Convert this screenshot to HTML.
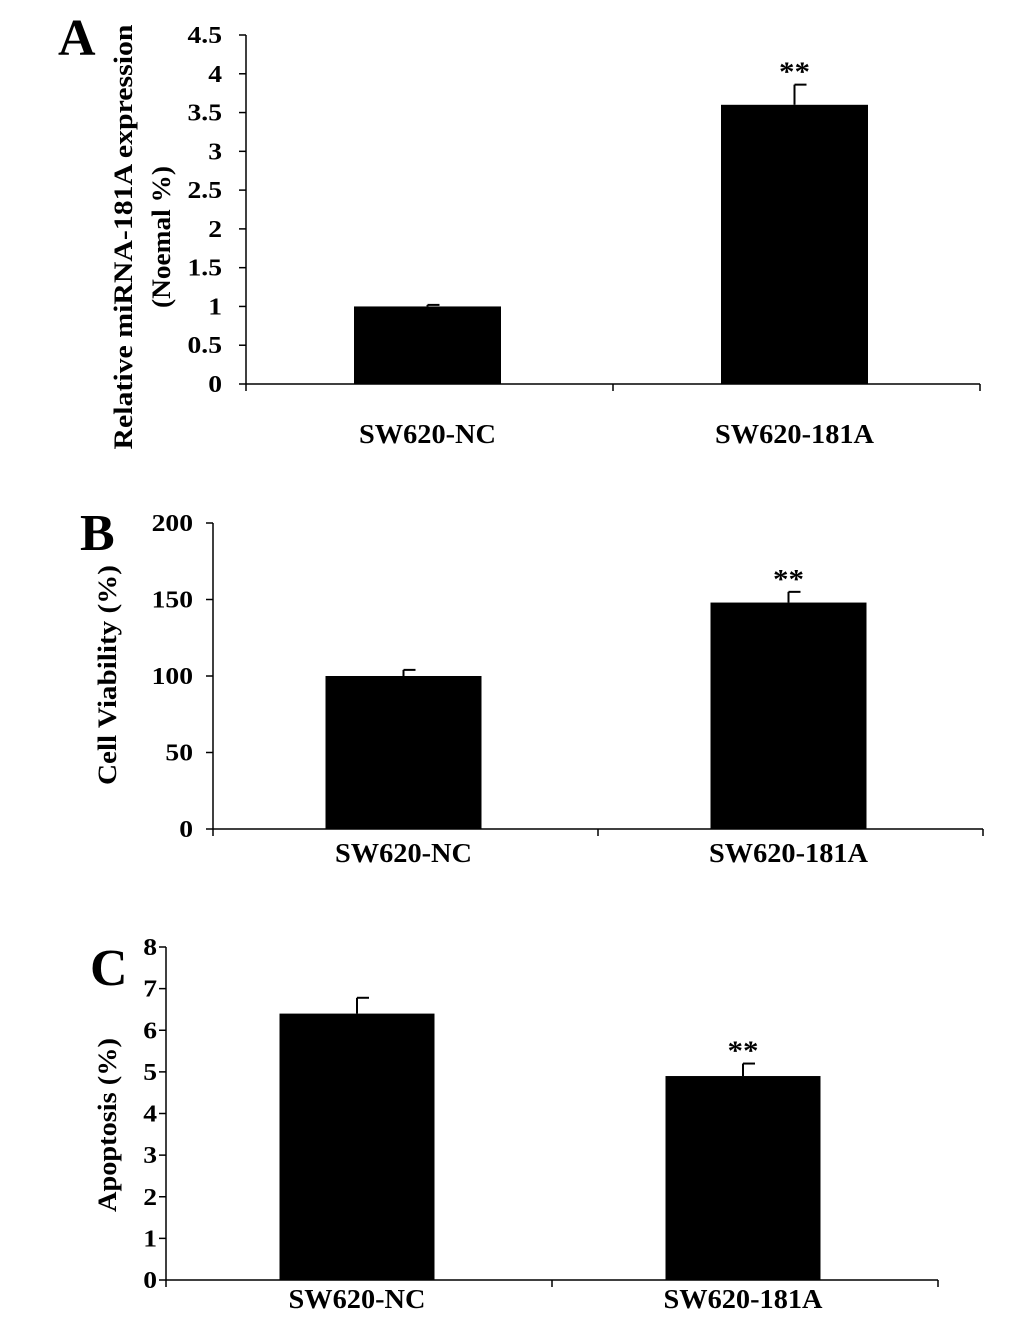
<!DOCTYPE html>
<html><head><meta charset="utf-8"><style>
body{margin:0;background:#fff}
svg{display:block;font-family:"Liberation Serif",serif;font-weight:bold}
</style></head><body>
<svg id="c" width="1033" height="1317" viewBox="0 0 1033 1317"></svg>
<script>
const categories=["SW620-NC","SW620-181A"];
const valuesA=[1.0,3.6], errA=[0.02,0.26], ticksA=["0","0.5","1","1.5","2","2.5","3","3.5","4","4.5"];
const valuesB=[100,148], errB=[4,7], ticksB=["0","50","100","150","200"];
const valuesC=[6.4,4.9], errC=[0.38,0.3], ticksC=["0","1","2","3","4","5","6","7","8"];
const sigA=[false,true], sigB=[false,true], sigC=[false,true];
const NS="http://www.w3.org/2000/svg", svg=document.getElementById('c');
function mk(t,a,p,txt){const e=document.createElementNS(NS,t);for(const k in a)e.setAttribute(k,a[k]);if(txt!==undefined)e.textContent=txt;(p||svg).appendChild(e);return e;}
const panels=[
 {id:"a",letter:"A",lx:58,ly:55,x0:246,x1:980,y0:384,y1:35,max:4.5,ticks:ticksA,vals:valuesA,err:errA,sig:sigA,bw:147,catY:443,gap:24,title:["Relative miRNA-181A expression","(Noemal %)"],titleX:[123,161],titleY:237,titleLen:[425,142]},
 {id:"b",letter:"B",lx:80,ly:550,x0:213,x1:983,y0:829,y1:523,max:200,ticks:ticksB,vals:valuesB,err:errB,sig:sigB,bw:156,catY:862,gap:20,title:["Cell Viability (%)"],titleX:[107],titleY:675,titleLen:[220]},
 {id:"c",letter:"C",lx:90,ly:985,x0:166,x1:938,y0:1280,y1:947,max:8,ticks:ticksC,vals:valuesC,err:errC,sig:sigC,bw:155,catY:1308,gap:9,title:["Apoptosis (%)"],titleX:[107],titleY:1125,titleLen:[174]}
];
panels.forEach(p=>{
 const g=mk('g',{});
 
 
 const y=v=>p.y0-(v/p.max)*(p.y0-p.y1);
 const band=(p.x1-p.x0)/categories.length;
 const cx=i=>p.x0+band*(i+0.5)-2;
 const L=mk('text',{x:p.lx,y:p.ly,'font-size':52},g,p.letter);
 
 const ya=mk('line',{x1:p.x0,x2:p.x0,y1:p.y1,y2:p.y0,stroke:'#000','stroke-width':1.5},g);
 
 const xa=mk('line',{x1:p.x0,x2:p.x1,y1:p.y0,y2:p.y0,stroke:'#000','stroke-width':1.5},g);
 
 p.ticks.forEach(t=>{const v=parseFloat(t),yy=y(v);
  mk('line',{x1:p.x0-7,x2:p.x0,y1:yy,y2:yy,stroke:'#000','stroke-width':1.5},g);
  const tl=mk('text',{x:0,y:0,'text-anchor':'end','font-size':24,transform:`translate(${p.x0-p.gap},${yy+8}) scale(1.15,1)`},g,t);
  });
 for(let i=0;i<=categories.length;i++){const xx=p.x0+band*i;mk('line',{x1:xx,x2:xx,y1:p.y0,y2:p.y0+7,stroke:'#000','stroke-width':1.5},g);}
 categories.forEach((c,i)=>{
  const top=y(p.vals[i]),et=y(p.vals[i]+p.err[i]);
  mk('line',{x1:cx(i),x2:cx(i),y1:et,y2:top,stroke:'#000','stroke-width':2},g);
  mk('line',{x1:cx(i),x2:cx(i)+12,y1:et,y2:et,stroke:'#000','stroke-width':2},g);
  const b=mk('rect',{x:cx(i)-p.bw/2,y:top,width:p.bw,height:p.y0-top,fill:'#000'},g);
  
  if(p.sig[i]){const s=mk('text',{x:0,y:0,'text-anchor':'middle','font-size':27,transform:`translate(${cx(i)},${et-4}) scale(1.15,1)`},g,'**');
   }
  const cl=mk('text',{x:0,y:0,'text-anchor':'middle','font-size':27,transform:`translate(${cx(i)},${p.catY}) scale(1.05,1)`},g,c);
  
 });
 p.title.forEach((t,k)=>{const tt=mk('text',{x:0,y:0,'text-anchor':'middle','font-size':26,textLength:p.titleLen[k],lengthAdjust:'spacingAndGlyphs',transform:`translate(${p.titleX[k]+9},${p.titleY}) rotate(-90)`},g,t);
  });
});
</script>
</body></html>
